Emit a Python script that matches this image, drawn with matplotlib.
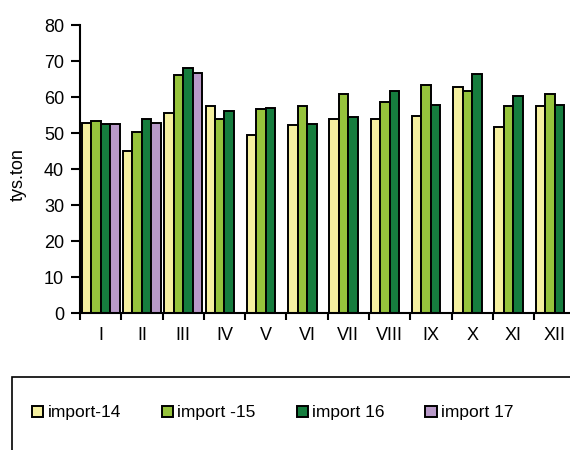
import numpy as np
import matplotlib.pyplot as plt
from matplotlib.patches import Rectangle

plt.rcParams['font.family'] = ['Liberation Sans', 'DejaVu Sans']

months = ['I', 'II', 'III', 'IV', 'V', 'VI', 'VII', 'VIII', 'IX', 'X', 'XI', 'XII']
import_14 = [52.9, 45.0, 55.7, 57.6, 49.4, 52.3, 53.8, 53.9, 54.8, 62.8, 51.8, 57.4]
import_15 = [53.4, 50.4, 66.2, 53.8, 56.7, 57.4, 60.8, 58.7, 63.3, 61.8, 57.4, 60.8]
import_16 = [52.6, 53.8, 68.1, 56.2, 57.0, 52.6, 54.6, 61.6, 57.9, 66.4, 60.4, 57.8]
import_17 = [52.6, 52.9, 66.6]

series = [
    ('import-14', import_14, '#F5F0A0'),
    ('import -15', import_15, '#96C33C'),
    ('import 16', import_16, '#167D3E'),
    ('import 17', import_17, '#B899C8'),
]

fig = plt.figure(figsize=(5.7, 4.5), dpi=100)
ax = fig.add_axes([0.1404, 0.3037, 0.869, 0.6407])

w = 0.23
for j, (name, vals, col) in enumerate(series):
    x = np.arange(len(vals)) + (j - 1.5) * w
    ax.bar(x, vals, width=w, color=col, edgecolor='black', linewidth=1.4, label=name)

ax.set_xlim(-0.5, len(months) - 0.5)
ax.set_ylim(0, 80)
ax.set_yticks(range(0, 81, 10))
ax.set_xticks(np.arange(len(months)))
ax.set_xticklabels(months)
# ticks between the month groups
ax.set_xticks(np.arange(len(months) + 1) - 0.5, minor=True)
ax.tick_params(axis='x', which='major', length=0, pad=10)
ax.tick_params(axis='x', which='minor', length=5, width=1.5, direction='out')
ax.tick_params(axis='y', length=6.5, width=1.5, direction='out', pad=5)
ax.tick_params(labelsize=13)
ax.spines['top'].set_visible(False)
ax.spines['right'].set_visible(False)
ax.spines['left'].set_linewidth(1.5)
ax.spines['bottom'].set_linewidth(1.5)
ax.set_ylabel('tys.ton', fontsize=13)
ax.yaxis.set_label_coords(-0.108, 0.48)

# legend frame (runs off the picture like in the original)
fig.patches.append(Rectangle((12 / 570, -0.05), 1.0, (450 - 377) / 450 + 0.05,
                             transform=fig.transFigure, fill=False,
                             edgecolor='black', linewidth=1.2))
fig.legend(loc='center left', bbox_to_anchor=(25 / 570, 1 - 413 / 450), ncol=4,
           frameon=False, fontsize=12.5, handlelength=0.65, handleheight=0.65,
           handletextpad=0.25, columnspacing=2.35, borderaxespad=0)

fig.savefig('out.png', dpi=100)
